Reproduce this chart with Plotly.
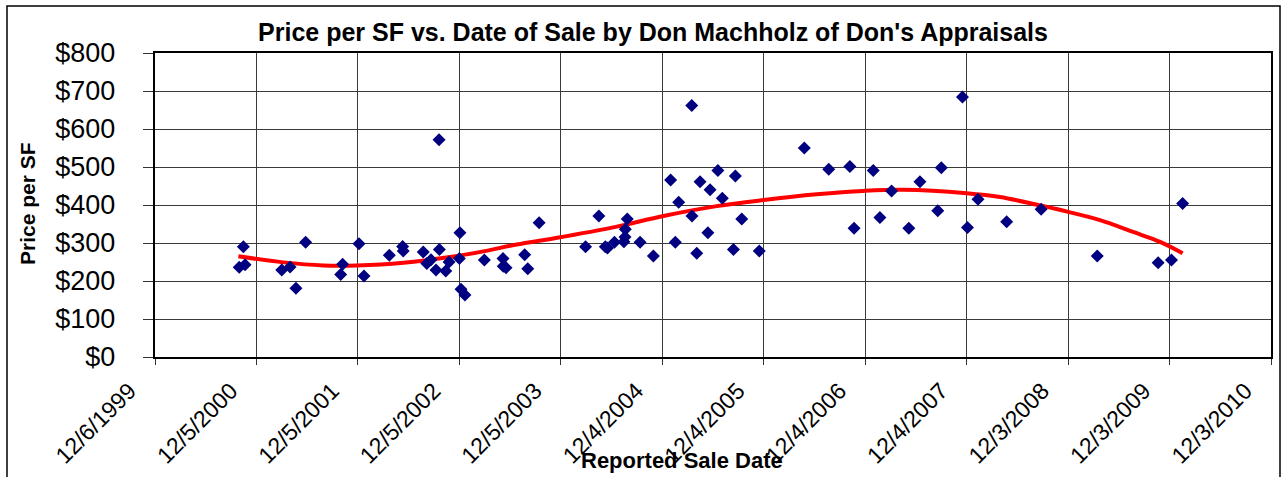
import plotly.graph_objects as go

# Sale data
sale_dates = [
    "2000-10-04", "2000-10-19", "2000-10-25", "2001-03-06", "2001-04-05", "2001-04-26",
    "2001-05-31", "2001-10-04", "2001-10-11", "2001-12-09", "2001-12-27", "2002-03-28",
    "2002-05-15", "2002-05-17", "2002-07-28", "2002-08-10", "2002-08-25", "2002-09-12",
    "2002-09-23", "2002-09-24", "2002-10-17", "2002-10-29", "2002-12-05", "2002-12-07",
    "2002-12-11", "2002-12-25", "2003-03-05", "2003-05-11", "2003-05-12", "2003-05-22",
    "2003-07-28", "2003-08-08", "2003-09-18", "2004-03-03", "2004-04-20", "2004-05-13",
    "2004-05-21", "2004-06-15", "2004-07-19", "2004-07-23", "2004-07-24", "2004-07-31",
    "2004-09-15", "2004-11-02", "2005-01-03", "2005-01-20", "2005-02-01", "2005-03-20",
    "2005-03-21", "2005-04-07", "2005-04-19", "2005-05-17", "2005-05-25", "2005-06-22",
    "2005-07-08", "2005-08-17", "2005-08-24", "2005-09-16", "2005-11-18", "2006-04-29",
    "2006-07-26", "2006-10-10", "2006-10-25", "2007-01-02", "2007-01-26", "2007-03-09",
    "2007-05-10", "2007-06-19", "2007-08-22", "2007-09-04", "2007-11-19", "2007-12-07",
    "2008-01-14", "2008-04-26", "2008-08-28", "2009-03-18", "2009-10-23", "2009-12-10",
    "2010-01-19",
]
price_per_sf = [
    236, 290, 243, 229, 237, 181,
    302, 217, 244, 298, 213, 268,
    291, 279, 276, 246, 256, 229,
    572, 283, 226, 250, 259, 327,
    178, 163, 255, 259, 239, 235,
    269, 232, 353, 290, 371, 290,
    287, 302, 303, 316, 336, 363,
    302, 266, 466, 302, 407, 662,
    371, 273, 461, 327, 440, 491,
    418, 283, 476, 363, 279, 550,
    494, 501, 339, 491, 367, 437,
    339, 461, 385, 498, 684, 341,
    415, 356, 389, 266, 248, 255,
    404,
]

# Trend line
trend_dates = [
    "2000-10-01", "2001-03-12", "2001-08-03", "2001-12-01", "2002-05-18", "2002-11-01",
    "2003-03-01", "2003-06-29", "2003-11-17", "2004-06-23", "2004-12-08", "2005-06-18",
    "2005-12-03", "2006-06-13", "2006-11-27", "2007-04-20", "2007-12-04", "2008-04-02",
    "2008-08-23", "2008-12-03", "2009-03-28", "2009-07-25", "2009-10-30", "2010-01-19",
]
trend_values = [
    265, 249, 241, 241, 248, 263,
    278, 296, 313, 343, 371, 397,
    413, 428, 437, 440, 431, 421,
    399, 382, 360, 329, 303, 273,
]

# Axis ticks
x_tick_dates = [
    "1999-12-06", "2000-12-05", "2001-12-05", "2002-12-05", "2003-12-05", "2004-12-04",
    "2005-12-04", "2006-12-04", "2007-12-04", "2008-12-03", "2009-12-03", "2010-12-03",
]
x_tick_labels = [
    "12/6/1999", "12/5/2000", "12/5/2001", "12/5/2002", "12/5/2003", "12/4/2004",
    "12/4/2005", "12/4/2006", "12/4/2007", "12/3/2008", "12/3/2009", "12/3/2010",
]
y_tick_values = [0, 100, 200, 300, 400, 500, 600, 700, 800]
y_tick_labels = ["$0", "$100", "$200", "$300", "$400", "$500", "$600", "$700", "$800"]

FONT = "Liberation Sans, Arial, sans-serif"
W, H = 1283, 477
L, R, T, B = 155, 12, 53, 120
NB = "\u00a0"

fig = go.Figure()
fig.add_trace(go.Scatter(
    x=trend_dates, y=trend_values, mode="lines",
    line=dict(color="#ff0000", width=4, shape="spline", smoothing=1.0),
    hoverinfo="skip", showlegend=False,
))
fig.add_trace(go.Scatter(
    x=sale_dates, y=price_per_sf, mode="markers",
    marker=dict(symbol="diamond", color="#000080", size=10, line=dict(width=0)),
    showlegend=False,
))

pw = W - L - R
ph = H - T - B

fig.update_layout(
    width=W, height=H,
    margin=dict(l=L, r=R, t=T, b=B, autoexpand=False),
    paper_bgcolor="white", plot_bgcolor="white",
    font=dict(family=FONT, color="black"),
    title=dict(
        text="<b>Price per SF vs. Date of Sale by Don Machholz of Don's Appraisals</b>",
        x=653 / W, xanchor="center", y=1 - 32 / H, yanchor="middle",
        font=dict(size=25, family=FONT, color="black"), automargin=False,
    ),
    xaxis=dict(
        type="date", automargin=False,
        range=[x_tick_dates[0], x_tick_dates[-1]],
        tickmode="array", tickvals=x_tick_dates,
        ticktext=[t + NB * 3 for t in x_tick_labels],
        tickangle=-45, tickfont=dict(size=23, family=FONT),
        ticklabeloverflow="allow",
        ticklabelshift=-12, ticklabelstandoff=-10,
        showgrid=True, gridcolor="#3a3a3a", gridwidth=1,
        showline=True, linecolor="black", linewidth=1.5, mirror=True,
        ticks="outside", ticklen=6, tickcolor="#333", zeroline=False,
    ),
    yaxis=dict(
        range=[0, 800], automargin=False,
        tickmode="array", tickvals=y_tick_values,
        ticktext=[t + NB * 3 for t in y_tick_labels],
        tickfont=dict(size=27, family=FONT),
        ticklabeloverflow="allow",
        showgrid=True, gridcolor="#3a3a3a", gridwidth=1,
        showline=True, linecolor="black", linewidth=1.5, mirror=True,
        ticks="outside", ticklen=10, tickcolor="#333", zeroline=False,
    ),
    annotations=[
        dict(text="<b>Reported Sale Date</b>", xref="paper", yref="paper",
             x=(682 - L) / pw, y=-(460 - (H - B)) / ph, xanchor="center", yanchor="middle",
             showarrow=False, font=dict(size=22, family=FONT)),
        dict(text="<b>Price per SF</b>", xref="paper", yref="paper",
             x=-(L - 27) / pw, y=((H - B) - 204) / ph, xanchor="center", yanchor="middle",
             textangle=-90, showarrow=False, font=dict(size=21, family=FONT)),
    ],
    shapes=[dict(
        type="rect", xref="paper", yref="paper",
        x0=(7 - L) / pw, x1=(1280 - L) / pw,
        y0=-0.45, y1=((H - B) - 6) / ph,
        line=dict(color="black", width=1.5), fillcolor="rgba(0,0,0,0)", layer="below",
    )],
)

fig.write_html(
    "out.html",
    config={"displayModeBar": False},
    post_script="document.body.style.margin='0';document.body.style.padding='0';",
)
